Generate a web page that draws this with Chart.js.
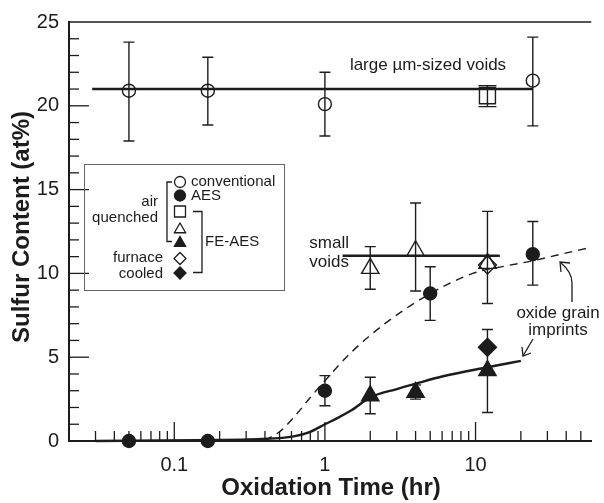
<!DOCTYPE html>
<html>
<head>
<meta charset="utf-8">
<script src="https://cdn.jsdelivr.net/npm/chart.js@4.4.1/dist/chart.umd.min.js"></script>
<style>
  html, body { margin: 0; padding: 0; background: #fff; }
  #wrap { width: 604px; height: 503px; }
</style>
</head>
<body>
<div id="wrap"><canvas id="sulfurChart" width="604" height="503"></canvas></div>
<script>
// oxidation time (hr) and sulfur content (at%)
const convX = [0.05, 0.167, 1, 24];
const convY = [20.9, 20.9, 20.1, 21.5];
const convLo = [17.9, 18.85, 18.2, 18.8];
const convHi = [23.8, 22.9, 22.0, 24.1];

const aesX = [0.05, 0.167, 1, 5, 24];
const aesY = [0, 0, 3.0, 8.8, 11.15];
const aesLo = [null, null, 2.1, 7.2, 9.3];
const aesHi = [null, null, 3.9, 10.4, 13.1];

const squareX = [12];
const squareY = [20.6];
const squareLo = [19.95];
const squareHi = [21.2];

const openTriX = [2, 4, 12];
const openTriY = [10.3, 11.35, 10.6];
const openTriLo = [9.05, 8.95, 8.2];
const openTriHi = [11.6, 14.2, 13.7];

const fillTriX = [2, 4, 12];
const fillTriY = [2.7, 2.9, 4.2];
const fillTriLo = [1.63, 2.5, 1.7];
const fillTriHi = [3.8, 3.35, 6.65];

const openDiaX = [12];
const openDiaY = [10.5];
const fillDiaX = [12];
const fillDiaY = [5.6];

// guide lines drawn in the figure
const largeVoidX = [0.0285, 24];
const largeVoidY = [21.0, 21.0];
const smallVoidX = [1.31, 14.5];
const smallVoidY = [11.05, 11.05];

const dashX = [0.4, 0.45, 0.5, 0.62, 0.8, 1, 1.5, 2.5, 4.8, 9.6, 16, 24, 37, 55];
const dashY = [0, 0.3, 0.55, 1.4, 2.6, 3.6, 5.3, 7.0, 8.7, 10.0, 10.45, 10.75, 11.15, 11.5];

const solidX = [0.03, 0.14, 0.38, 0.62, 0.8, 1.0, 1.2, 1.5, 2, 3, 4, 6, 12, 20];
const solidY = [0, 0.05, 0.12, 0.28, 0.55, 1.0, 1.35, 1.83, 2.6, 3.1, 3.42, 3.85, 4.4, 4.78];

// axis ticks
const xTickValues = [0.1, 1, 10];
const xMinorTicks = [0.03, 0.04, 0.05, 0.06, 0.07, 0.08, 0.09,
  0.2, 0.3, 0.4, 0.5, 0.6, 0.7, 0.8, 0.9,
  2, 3, 4, 5, 6, 7, 8, 9, 20, 30, 40, 50];
const yMajorTicks = [5, 10, 15, 20];
const yMinorTicks = [1, 2, 3, 4, 6, 7, 8, 9, 11, 12, 13, 14, 16, 17, 18, 19, 21, 22, 23, 24];

const INK = "#1c1c1c";
const FONT = "'Liberation Sans', Arial, Helvetica, sans-serif";
Chart.defaults.font.family = FONT;
Chart.defaults.color = INK;

const pts = (xs, ys) => xs.map((v, i) => ({ x: v, y: ys[i] }));

function marker(ctx, style, x, y, r, filled) {
  ctx.beginPath();
  if (style === "circle") {
    ctx.arc(x, y, r, 0, Math.PI * 2);
  } else if (style === "rect") {
    ctx.rect(x - r, y - r, 2 * r, 2 * r);
  } else if (style === "triangle") {
    ctx.moveTo(x, y - r);
    ctx.lineTo(x + r * 0.866, y + r * 0.5);
    ctx.lineTo(x - r * 0.866, y + r * 0.5);
    ctx.closePath();
  } else if (style === "diamond") {
    ctx.moveTo(x, y - r); ctx.lineTo(x + r, y); ctx.lineTo(x, y + r); ctx.lineTo(x - r, y);
    ctx.closePath();
  }
  if (filled) ctx.fill();
  ctx.stroke();
}

const errorBars = {
  id: "errorBars",
  beforeDatasetsDraw(chart) {
    const { ctx, scales: { x, y } } = chart;
    ctx.save();
    ctx.strokeStyle = INK;
    ctx.lineWidth = 1.4;
    chart.data.datasets.forEach(ds => {
      if (!ds.errLo) return;
      const cap = ds.capHalf || 5.5;
      ds.data.forEach((p, i) => {
        const lo = ds.errLo[i], hi = ds.errHi[i];
        if (lo == null) return;
        const px = x.getPixelForValue(p.x);
        const top = y.getPixelForValue(hi), bot = y.getPixelForValue(lo);
        ctx.beginPath();
        ctx.moveTo(px, top); ctx.lineTo(px, bot);
        ctx.moveTo(px - cap, top); ctx.lineTo(px + cap, top);
        ctx.moveTo(px - cap, bot); ctx.lineTo(px + cap, bot);
        ctx.stroke();
      });
    });
    ctx.restore();
  }
};

const decorations = {
  id: "decorations",
  afterDraw(chart) {
    const { ctx, chartArea: a, scales: { x, y } } = chart;
    const seg = (x1, y1, x2, y2) => { ctx.beginPath(); ctx.moveTo(x1, y1); ctx.lineTo(x2, y2); ctx.stroke(); };
    ctx.save();
    ctx.strokeStyle = INK;
    ctx.fillStyle = INK;

    // top frame
    ctx.lineWidth = 1.5;
    seg(a.left, a.top, a.right, a.top);

    // inward ticks
    ctx.lineWidth = 1.3;
    xMinorTicks.forEach(v => { const px = x.getPixelForValue(v); seg(px, a.bottom, px, a.bottom - 10); });
    xTickValues.forEach(v => { const px = x.getPixelForValue(v); seg(px, a.bottom, px, a.bottom - 19); });
    yMinorTicks.forEach(v => { const py = y.getPixelForValue(v); seg(a.left, py, a.left + 10, py); });
    yMajorTicks.forEach(v => { const py = y.getPixelForValue(v); seg(a.left, py, a.left + 20, py); });

    // axis titles
    ctx.font = "bold 24px " + FONT;
    ctx.textAlign = "center";
    ctx.textBaseline = "alphabetic";
    ctx.fillText("Oxidation Time (hr)", 331, 495);
    ctx.save();
    ctx.translate(29, 227);
    ctx.rotate(-Math.PI / 2);
    ctx.fillText("Sulfur Content (at%)", 0, 0);
    ctx.restore();

    // annotations
    ctx.font = "17px " + FONT;
    ctx.textBaseline = "middle";
    ctx.textAlign = "center";
    ctx.fillText("large \u00b5m-sized voids", 428, 65);
    ctx.fillText("oxide grain", 558, 313);
    ctx.fillText("imprints", 558, 330);
    ctx.textAlign = "right";
    ctx.fillText("small", 349, 243);
    ctx.fillText("voids", 349, 262);

    // arrows
    ctx.lineWidth = 1.3;
    ctx.beginPath();
    ctx.moveTo(572, 302); ctx.lineTo(572, 283);
    ctx.quadraticCurveTo(572, 272, 561, 263);
    ctx.stroke();
    ctx.beginPath();
    ctx.moveTo(561, 272); ctx.lineTo(560, 262); ctx.lineTo(570, 263);
    ctx.stroke();
    seg(533, 339, 523, 356);
    ctx.beginPath();
    ctx.moveTo(522, 347); ctx.lineTo(523, 356); ctx.lineTo(531, 353);
    ctx.stroke();

    // legend box
    ctx.strokeStyle = "#666";
    ctx.lineWidth = 1;
    ctx.strokeRect(84.5, 164.5, 200, 126);
    ctx.strokeStyle = INK;
    ctx.lineWidth = 1.3;
    ctx.fillStyle = INK;
    const sx = 180;
    marker(ctx, "circle", sx, 182, 5.5, false);
    marker(ctx, "circle", sx, 195.5, 5.5, true);
    marker(ctx, "rect", sx, 211.5, 5.5, false);
    marker(ctx, "triangle", sx, 229.5, 6.5, false);
    marker(ctx, "triangle", sx, 243, 6.5, true);
    marker(ctx, "diamond", sx, 258.5, 6, false);
    marker(ctx, "diamond", sx, 273, 6, true);

    // brackets
    ctx.beginPath();
    ctx.moveTo(172, 182); ctx.lineTo(167, 182); ctx.lineTo(167, 241.5); ctx.lineTo(172, 241.5);
    ctx.stroke();
    ctx.beginPath();
    ctx.moveTo(193, 211.5); ctx.lineTo(202, 211.5); ctx.lineTo(202, 272.5); ctx.lineTo(193, 272.5);
    ctx.stroke();

    ctx.font = "15px " + FONT;
    ctx.textBaseline = "middle";
    ctx.textAlign = "left";
    ctx.fillText("conventional", 191, 182);
    ctx.fillText("AES", 191, 196);
    ctx.fillText("FE-AES", 205, 242);
    ctx.textAlign = "right";
    ctx.fillText("air", 158, 202);
    ctx.fillText("quenched", 158, 218);
    ctx.fillText("furnace", 163, 258);
    ctx.fillText("cooled", 163, 273.5);
    ctx.restore();
  }
};

const pointSet = (data, style, r, filled, extra) => Object.assign({
  data,
  showLine: false,
  pointStyle: style,
  pointRadius: r,
  pointHoverRadius: r,
  pointBorderWidth: 1.4,
  pointBorderColor: INK,
  pointBackgroundColor: filled ? INK : "rgba(0,0,0,0)",
  clip: false,
  order: 0
}, extra || {});

const lineSet = (data, width, dash) => ({
  data,
  showLine: true,
  borderColor: INK,
  borderWidth: width,
  borderDash: dash || [],
  pointRadius: 0,
  pointHoverRadius: 0,
  cubicInterpolationMode: "monotone",
  clip: false,
  order: 1
});

new Chart(document.getElementById("sulfurChart"), {
  type: "scatter",
  data: {
    datasets: [
      pointSet(pts(convX, convY), "circle", 6.5, false, { errLo: convLo, errHi: convHi }),
      pointSet(pts(aesX, aesY), "circle", 6.5, true, { errLo: aesLo, errHi: aesHi }),
      pointSet(pts(squareX, squareY), "rect", 11.3, false, { errLo: squareLo, errHi: squareHi, capHalf: 9 }),
      pointSet(pts(openTriX, openTriY), "triangle", 10, false, { errLo: openTriLo, errHi: openTriHi }),
      pointSet(pts(fillTriX, fillTriY), "triangle", 10, true, { errLo: fillTriLo, errHi: fillTriHi }),
      pointSet(pts(openDiaX, openDiaY), "rectRot", 9, false),
      pointSet(pts(fillDiaX, fillDiaY), "rectRot", 9, true),
      lineSet(pts(largeVoidX, largeVoidY), 2.4),
      lineSet(pts(smallVoidX, smallVoidY), 2.4),
      lineSet(pts(dashX, dashY), 1.4, [8, 6]),
      lineSet(pts(solidX, solidY), 2.4)
    ]
  },
  options: {
    responsive: false,
    animation: false,
    events: [],
    layout: { padding: { left: 0, right: 0, top: 17, bottom: 0 } },
    plugins: {
      legend: { display: false },
      tooltip: { enabled: false }
    },
    scales: {
      x: {
        type: "logarithmic",
        min: 0.02,
        max: 58.7,
        grid: { display: false, drawTicks: false, tickLength: 0 },
        border: { display: true, color: INK, width: 2 },
        afterBuildTicks: scale => { scale.ticks = xTickValues.map(v => ({ value: v })); },
        afterFit: scale => { scale.height = 62; },
        ticks: {
          autoSkip: false,
          maxRotation: 0,
          padding: 12,
          font: { size: 20 },
          color: INK,
          callback: v => String(v)
        }
      },
      y: {
        min: 0,
        max: 25,
        grid: { display: false, drawTicks: false, tickLength: 0 },
        border: { display: true, color: INK, width: 2 },
        afterFit: scale => { scale.width = 69; },
        ticks: {
          stepSize: 5,
          padding: 10,
          font: { size: 20 },
          color: INK
        }
      }
    }
  },
  plugins: [errorBars, decorations]
});
</script>
</body>
</html>
